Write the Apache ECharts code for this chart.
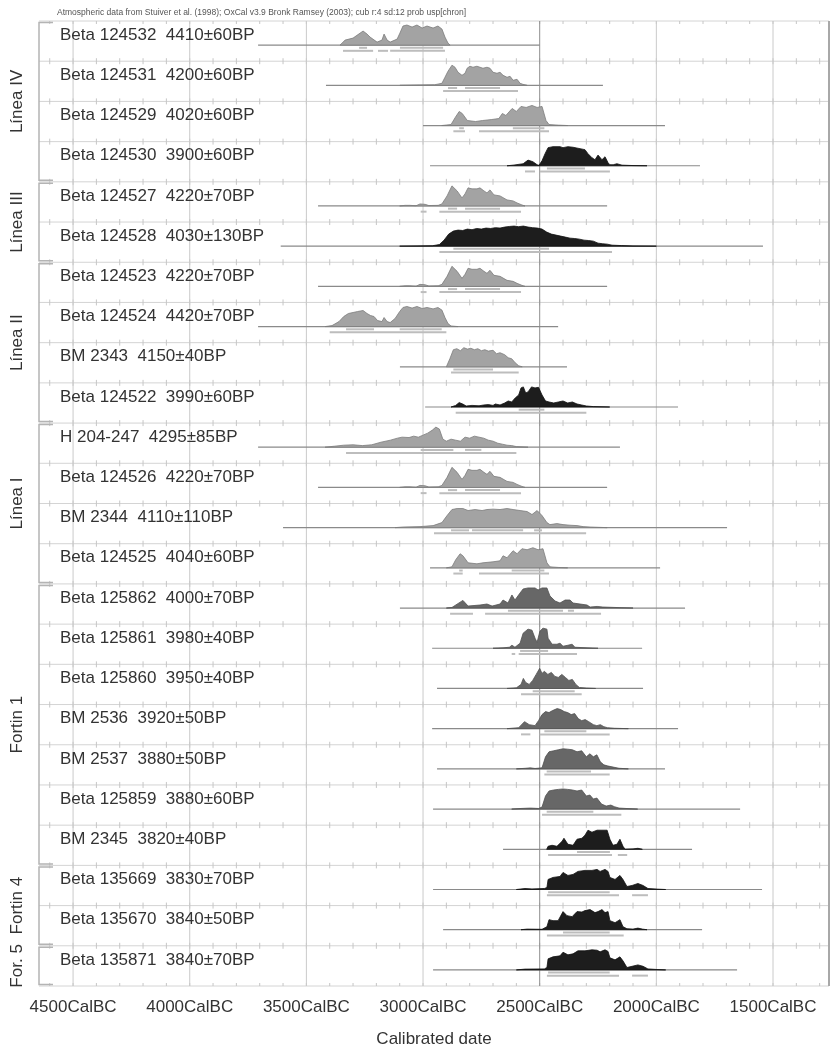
<!DOCTYPE html>
<html><head><meta charset="utf-8">
<script src="https://cdn.jsdelivr.net/npm/echarts@6/dist/echarts.min.js"></script>
<style>html,body{margin:0;padding:0;background:#fff}#c{width:835px;height:1053px}</style>
</head><body><div id="c"></div>
<script>
// ---------- DATA ----------
const headerText = 'Atmospheric data from Stuiver et al. (1998); OxCal v3.9 Bronk Ramsey (2003); cub r:4 sd:12 prob usp[chron]';
const axisTitle = 'Calibrated date';
const tickYears = [4500, 4000, 3500, 3000, 2500, 2000, 1500];
const axisStartBC = 4646, axisEndBC = 1260, minorStep = 100;

const groupNames = ['Línea IV', 'Línea III', 'Línea II', 'Línea I', 'Fortin 1', 'Fortin 4', 'For. 5'];
const groupSizes = [4, 2, 4, 4, 7, 2, 1];

const labels = [
  'Beta 124532  4410±60BP', 'Beta 124531  4200±60BP', 'Beta 124529  4020±60BP', 'Beta 124530  3900±60BP',
  'Beta 124527  4220±70BP', 'Beta 124528  4030±130BP',
  'Beta 124523  4220±70BP', 'Beta 124524  4420±70BP', 'BM 2343  4150±40BP', 'Beta 124522  3990±60BP',
  'H 204-247  4295±85BP', 'Beta 124526  4220±70BP', 'BM 2344  4110±110BP', 'Beta 124525  4040±60BP',
  'Beta 125862  4000±70BP', 'Beta 125861  3980±40BP', 'Beta 125860  3950±40BP', 'BM 2536  3920±50BP',
  'BM 2537  3880±50BP', 'Beta 125859  3880±60BP', 'BM 2345  3820±40BP',
  'Beta 135669  3830±70BP', 'Beta 135670  3840±50BP', 'Beta 135871  3840±70BP'
];
// l = light grey, m = mid grey, d = black
const shades = ['l','l','l','d', 'l','d', 'l','l','l','d', 'l','l','l','l', 'm','m','m','m','m','m','d', 'd','d', 'd'];

// calibrated range extent (years cal BC)
const ranges = [
  [3707,2500],[3416,2229],[3000,1963],[2970,1813],
  [3450,2211],[3610,1543],
  [3450,2211],[3707,2421],[3099,2383],[2991,1907],
  [3707,2156],[3450,2211],[3600,1697],[2970,1984],
  [3099,1877],[2961,2061],[2940,2057],[2961,1907],[2940,1963],[2957,1641],[2657,1847],
  [2957,1547],[2914,1804],[2957,1654]
];

// probability curves: [year cal BC, relative probability %]
const curve00 = [[3356,0],[3334,25],[3300,35],[3257,70],[3240,55],[3227,40],[3197,15],[3176,25],[3167,55],[3154,25],[3141,15],[3111,30],[3099,60],[3086,95],[3069,100],[3047,90],[3026,100],[3004,85],[2983,95],[2957,85],[2936,95],[2919,80],[2906,40],[2893,10],[2884,0]];
const curve01 = [[3099,0],[3013,2],[2950,3],[2919,10],[2906,40],[2893,70],[2876,100],[2863,90],[2850,65],[2833,50],[2820,60],[2811,85],[2799,95],[2786,90],[2769,95],[2756,90],[2743,85],[2726,90],[2713,85],[2700,65],[2683,60],[2670,65],[2657,50],[2640,40],[2627,45],[2614,25],[2597,30],[2584,10],[2572,5],[2554,0]];
const curve02 = [[2920,0],[2880,5],[2862,40],[2845,70],[2832,60],[2810,25],[2775,20],[2745,25],[2705,30],[2675,35],[2660,60],[2645,50],[2618,85],[2600,70],[2580,95],[2558,90],[2533,100],[2511,90],[2490,95],[2473,25],[2460,5],[2420,2],[2380,0]];
const curve03 = [[2640,0],[2614,3],[2571,10],[2550,28],[2529,20],[2511,5],[2503,2],[2490,25],[2477,60],[2464,90],[2443,95],[2413,95],[2400,90],[2379,95],[2357,92],[2327,85],[2306,80],[2293,60],[2276,40],[2263,30],[2250,53],[2233,30],[2220,45],[2207,15],[2199,5],[2185,5],[2169,10],[2147,3],[2100,1],[2040,0]];
const curve04 = [[3100,0],[3077,3],[3056,3],[3030,1],[3013,10],[2991,8],[2975,2],[2935,3],[2919,10],[2897,50],[2876,100],[2854,75],[2833,40],[2820,60],[2807,90],[2790,85],[2769,85],[2756,90],[2739,75],[2726,65],[2713,80],[2696,55],[2670,50],[2640,30],[2614,25],[2597,15],[2576,5],[2563,0]];
const curve05 = [[3100,0],[2960,2],[2930,8],[2910,30],[2890,60],[2870,75],[2850,80],[2830,78],[2810,85],[2790,82],[2770,88],[2750,85],[2730,90],[2710,88],[2690,92],[2670,90],[2650,95],[2630,98],[2610,100],[2590,97],[2570,100],[2550,95],[2530,92],[2510,90],[2490,85],[2470,70],[2450,60],[2430,55],[2410,50],[2390,45],[2370,40],[2350,38],[2330,35],[2310,30],[2290,28],[2270,25],[2250,15],[2230,12],[2210,10],[2190,5],[2150,3],[2100,1],[2000,0]];
const curve06 = [[3100,0],[3077,3],[3056,3],[3030,1],[3013,10],[2991,8],[2975,2],[2935,3],[2919,10],[2897,50],[2876,100],[2854,75],[2833,40],[2820,60],[2807,90],[2790,85],[2769,85],[2756,90],[2739,75],[2726,65],[2713,80],[2696,55],[2670,50],[2640,30],[2614,25],[2597,15],[2576,5],[2563,0]];
const curve07 = [[3420,0],[3390,5],[3360,25],[3340,50],[3320,65],[3300,70],[3280,75],[3257,80],[3240,65],[3225,55],[3210,50],[3195,30],[3176,25],[3167,45],[3154,25],[3141,20],[3120,40],[3100,75],[3086,95],[3069,100],[3047,92],[3026,100],[3004,90],[2983,95],[2957,88],[2936,95],[2919,82],[2906,45],[2893,15],[2880,3],[2850,0]];
const curve08 = [[2900,0],[2885,40],[2870,85],[2855,90],[2840,80],[2825,95],[2810,88],[2795,92],[2780,85],[2765,90],[2750,80],[2735,85],[2720,78],[2700,82],[2685,65],[2670,70],[2650,60],[2635,45],[2620,40],[2605,20],[2590,5],[2575,0]];
const curve09 = [[2880,0],[2860,8],[2845,22],[2830,15],[2815,5],[2790,8],[2760,6],[2740,10],[2720,12],[2700,8],[2690,15],[2670,10],[2650,20],[2635,30],[2620,25],[2605,45],[2590,60],[2580,95],[2570,100],[2560,70],[2550,75],[2535,100],[2520,95],[2505,98],[2490,60],[2475,30],[2460,25],[2440,20],[2420,25],[2400,30],[2380,20],[2360,25],[2340,15],[2320,10],[2300,5],[2270,2],[2200,0]];
const curve10 = [[3420,0],[3380,5],[3340,10],[3300,12],[3260,8],[3220,12],[3180,25],[3140,35],[3110,45],[3090,50],[3060,48],[3040,55],[3020,50],[3000,60],[2980,70],[2960,85],[2945,100],[2930,90],[2915,40],[2900,30],[2880,40],[2860,35],[2840,30],[2820,50],[2800,45],[2780,55],[2760,50],[2740,45],[2720,35],[2700,30],[2680,20],[2660,15],[2640,10],[2620,8],[2600,3],[2550,0]];
const curve11 = [[3100,0],[3077,3],[3056,3],[3030,1],[3013,10],[2991,8],[2975,2],[2935,3],[2919,10],[2897,50],[2876,100],[2854,75],[2833,40],[2820,60],[2807,90],[2790,85],[2769,85],[2756,90],[2739,75],[2726,65],[2713,80],[2696,55],[2670,50],[2640,30],[2614,25],[2597,15],[2576,5],[2563,0]];
const curve12 = [[3120,0],[3086,3],[3013,5],[2957,10],[2919,25],[2897,60],[2876,90],[2854,95],[2829,95],[2807,85],[2777,90],[2747,85],[2726,90],[2700,92],[2670,90],[2640,95],[2614,90],[2584,85],[2554,80],[2533,65],[2511,85],[2490,60],[2469,25],[2456,15],[2426,20],[2400,15],[2370,12],[2340,10],[2314,5],[2284,3],[2211,0]];
const curve13 = [[2900,0],[2876,5],[2860,40],[2841,70],[2829,60],[2807,25],[2769,20],[2743,25],[2700,30],[2670,35],[2657,60],[2640,50],[2614,85],[2597,70],[2576,95],[2554,90],[2529,100],[2507,90],[2486,95],[2469,25],[2456,5],[2420,2],[2380,0]];
const curve14 = [[2900,0],[2876,3],[2829,38],[2807,10],[2756,15],[2726,20],[2704,10],[2670,20],[2657,40],[2636,25],[2619,65],[2606,40],[2584,75],[2571,95],[2550,100],[2520,100],[2507,90],[2490,100],[2469,100],[2456,60],[2434,35],[2413,25],[2391,40],[2370,40],[2357,25],[2327,20],[2297,15],[2284,5],[2254,8],[2229,5],[2156,2],[2100,0]];
const curve15 = [[2700,0],[2657,2],[2630,5],[2619,15],[2606,5],[2584,25],[2571,75],[2550,95],[2533,90],[2520,50],[2511,30],[2499,85],[2486,100],[2469,95],[2464,50],[2447,20],[2426,20],[2413,25],[2400,10],[2379,15],[2361,20],[2349,5],[2297,2],[2250,0]];
const curve16 = [[2640,0],[2600,3],[2580,20],[2570,50],[2560,30],[2545,20],[2530,40],[2515,70],[2500,100],[2490,75],[2480,85],[2465,70],[2450,80],[2435,60],[2420,55],[2405,70],[2390,55],[2375,40],[2360,45],[2345,20],[2330,5],[2300,2],[2260,0]];
const curve17 = [[2640,0],[2590,5],[2565,35],[2545,20],[2520,15],[2505,40],[2490,70],[2475,85],[2460,80],[2445,90],[2425,100],[2410,95],[2395,85],[2380,80],[2365,70],[2350,75],[2335,50],[2320,40],[2305,45],[2290,35],[2270,20],[2255,15],[2240,20],[2225,10],[2210,5],[2180,2],[2120,0]];
const curve18 = [[2600,0],[2560,3],[2540,5],[2520,2],[2490,5],[2475,60],[2460,85],[2440,90],[2420,95],[2400,100],[2380,98],[2360,95],[2340,85],[2320,90],[2300,60],[2285,75],[2270,60],[2255,70],[2240,35],[2225,20],[2210,15],[2190,10],[2160,3],[2120,0]];
const curve19 = [[2620,0],[2580,3],[2540,5],[2505,3],[2490,10],[2475,65],[2460,90],[2440,95],[2420,98],[2400,100],[2380,98],[2360,95],[2340,90],[2320,95],[2300,65],[2285,70],[2270,50],[2255,55],[2235,25],[2215,15],[2195,20],[2180,12],[2160,5],[2130,3],[2080,0]];
const curve20 = [[2470,0],[2464,15],[2447,20],[2426,15],[2404,40],[2396,55],[2379,25],[2357,20],[2340,50],[2319,55],[2306,70],[2293,95],[2276,85],[2254,95],[2233,95],[2211,95],[2199,50],[2186,20],[2169,25],[2156,50],[2143,15],[2134,0],[2100,2],[2079,5],[2060,0]];
const curve21 = [[2600,0],[2563,5],[2533,3],[2480,5],[2469,10],[2464,50],[2443,60],[2413,65],[2400,85],[2379,70],[2357,75],[2336,90],[2306,95],[2276,95],[2254,100],[2241,90],[2220,100],[2207,90],[2199,60],[2177,50],[2156,70],[2143,50],[2126,15],[2104,20],[2079,30],[2057,20],[2036,5],[1997,2],[1960,0]];
const curve22 = [[2580,0],[2554,3],[2490,2],[2469,15],[2460,50],[2443,45],[2421,45],[2400,90],[2383,70],[2361,65],[2340,90],[2319,88],[2306,95],[2284,100],[2263,85],[2250,90],[2233,100],[2220,85],[2207,90],[2199,45],[2177,35],[2156,50],[2143,15],[2126,5],[2100,3],[2079,8],[2060,3],[2040,0]];
const curve23 = [[2600,0],[2563,4],[2480,5],[2469,12],[2464,55],[2443,65],[2413,70],[2400,88],[2379,75],[2357,80],[2336,95],[2306,95],[2276,100],[2254,98],[2241,90],[2220,100],[2207,92],[2199,60],[2177,50],[2156,65],[2143,45],[2126,12],[2104,18],[2079,25],[2057,18],[2036,5],[1997,2],[1960,0]];
const curves = [curve00,curve01,curve02,curve03,curve04,curve05,curve06,curve07,curve08,curve09,curve10,curve11,
                curve12,curve13,curve14,curve15,curve16,curve17,curve18,curve19,curve20,curve21,curve22,curve23];

// 68.2% ranges (upper brackets) and 95.4% ranges (lower brackets), years cal BC
const sigma1 = [
  [[3274,3240],[3099,2914]], [[2893,2854],[2820,2670]], [[2845,2825],[2615,2480]], [[2469,2306]],
  [[2893,2854],[2820,2670]], [[2870,2460]],
  [[2893,2854],[2820,2670]], [[3330,3210],[3100,2920]], [[2870,2700]], [[2590,2480]],
  [[3010,2870],[2820,2750]], [[2893,2854],[2820,2670]], [[2880,2803],[2790,2571],[2524,2490]], [[2845,2830],[2620,2480]],
  [[2636,2400],[2379,2353]], [[2584,2464]], [[2530,2350]], [[2480,2300]], [[2470,2280]], [[2470,2270]], [[2340,2199]],
  [[2464,2200]], [[2400,2200]], [[2464,2200]]
];
const sigma2 = [
  [[3343,3214],[3193,3150],[3141,2906]], [[2914,2593]], [[2870,2820],[2760,2460]], [[2563,2520],[2499,2199]],
  [[3010,2985],[2930,2580]], [[2930,2190]],
  [[3010,2985],[2930,2580]], [[3400,2900]], [[2880,2590]], [[2860,2300]],
  [[3330,2600]], [[3010,2985],[2930,2580]], [[2953,2301]], [[2870,2830],[2760,2460]],
  [[2884,2786],[2734,2237]], [[2620,2605],[2590,2340]], [[2580,2320]], [[2580,2540],[2500,2200]], [[2480,2200]], [[2490,2150]], [[2464,2190],[2165,2125]],
  [[2469,2160],[2104,2036]], [[2469,2140]], [[2469,2160],[2104,2036]]
];

// ---------- CHART ----------
const FONT = '"Liberation Sans", Arial, Helvetica, sans-serif';
const shadeStyle = {
  l: {fill: '#a3a3a3', stroke: '#7c7c7c'},
  m: {fill: '#676767', stroke: '#505050'},
  d: {fill: '#1d1d1d', stroke: '#111111'}
};
const nRows = labels.length;
const BASE = 0.6, AMP = 0.5, LABEL_Y = 0.35, S1 = 0.067, S2 = 0.142;
const X = y => -y;

const chart = echarts.init(document.getElementById('c'), null, {renderer: 'canvas'});

const rowLineSeries = {
  type: 'custom', silent: true, clip: false, z: 1,
  encode: {x: 0, y: 1},
  data: Array.from({length: nRows + 1}, (_, k) => [X(3000), k]),
  renderItem(params, api) {
    const k = api.value(1);
    const a = api.coord([X(axisStartBC), k]), b = api.coord([X(axisEndBC), k]);
    const ch = [{type: 'line', shape: {x1: a[0], y1: a[1], x2: b[0], y2: b[1]}, style: {stroke: '#d4d4d4', lineWidth: 1}}];
    for (let yr = Math.floor(axisStartBC / minorStep) * minorStep; yr > axisEndBC; yr -= minorStep) {
      const p = api.coord([X(yr), k]);
      const up = k === 0 ? 0 : 3, dn = k === nRows ? 0 : 3;
      ch.push({type: 'line', shape: {x1: p[0], y1: p[1] - up, x2: p[0], y2: p[1] + dn}, style: {stroke: '#c6c6c6', lineWidth: 1}});
    }
    return {type: 'group', children: ch};
  }
};

const vLineSeries = {
  type: 'custom', silent: true, clip: false, z: 2,
  encode: {x: 0, y: 1},
  data: tickYears.map(y => [X(y), 0]),
  renderItem(params, api) {
    const yr = tickYears[params.dataIndex];
    const a = api.coord([X(yr), 0]), b = api.coord([X(yr), nRows]);
    return {type: 'line', shape: {x1: a[0], y1: a[1], x2: b[0], y2: b[1]},
      style: {stroke: yr === 2500 ? '#8e8e8e' : '#cacaca', lineWidth: 1}};
  }
};

const frameSeries = {
  type: 'custom', silent: true, clip: false, z: 3,
  encode: {x: 0, y: 1},
  data: [[X(axisEndBC), 0]],
  renderItem(params, api) {
    const a = api.coord([X(axisEndBC), 0]), b = api.coord([X(axisEndBC), nRows]);
    return {type: 'line', shape: {x1: a[0], y1: a[1], x2: b[0], y2: b[1]}, style: {stroke: '#a8a8a8', lineWidth: 2}};
  }
};

const rowSeries = {
  type: 'custom', silent: true, clip: false, z: 5,
  encode: {x: 0, y: 1},
  data: labels.map((_, i) => [X(ranges[i][0]), i]),
  renderItem(params, api) {
    const i = params.dataIndex;
    const base = i + BASE;
    const st = shadeStyle[shades[i]];
    const ch = [];
    const r0 = api.coord([X(ranges[i][0]), base]), r1 = api.coord([X(ranges[i][1]), base]);
    ch.push({type: 'line', shape: {x1: r0[0], y1: r0[1], x2: r1[0], y2: r1[1]}, style: {stroke: '#8a8a8a', lineWidth: 1.2}});
    const pts = curves[i].map(([yr, h]) => api.coord([X(yr), base - h / 100 * AMP]));
    ch.push({type: 'polygon', shape: {points: pts}, style: {fill: st.fill, stroke: st.stroke, lineWidth: 0.8}});
    [[sigma1[i], S1], [sigma2[i], S2]].forEach(([segs, off]) => {
      segs.forEach(([y0, y1]) => {
        const p0 = api.coord([X(y0), base + off]), p1 = api.coord([X(y1), base + off]);
        ch.push({type: 'line', shape: {x1: p0[0], y1: p0[1], x2: p1[0], y2: p1[1]}, style: {stroke: '#bdbdbd', lineWidth: 2}});
      });
    });
    const lp = api.coord([X(4556), i + LABEL_Y]);
    ch.push({type: 'text', x: lp[0], y: lp[1], style: {text: labels[i], fill: '#333', fontSize: 17, fontFamily: FONT, align: 'left', verticalAlign: 'middle'}});
    return {type: 'group', children: ch};
  }
};

const groupStarts = groupSizes.map((_, g) => groupSizes.slice(0, g).reduce((s, v) => s + v, 0));
const groupSeries = {
  type: 'custom', silent: true, clip: false, z: 6,
  encode: {x: 0, y: 1},
  data: groupNames.map((_, g) => [X(axisStartBC), groupStarts[g]]),
  renderItem(params, api) {
    const g = params.dataIndex;
    const top = api.coord([X(axisStartBC), groupStarts[g]]);
    const bot = api.coord([X(axisStartBC), groupStarts[g] + groupSizes[g]]);
    const xl = top[0];
    return {type: 'group', children: [
      {type: 'polyline', shape: {points: [[xl + 14, top[1] + 1.5], [xl, top[1] + 1.5], [xl, bot[1] - 1.5], [xl + 14, bot[1] - 1.5]]},
        style: {stroke: '#b4b4b4', lineWidth: 1.5, fill: null}},
      {type: 'text', x: xl - 22, y: (top[1] + bot[1]) / 2, rotation: Math.PI / 2,
        style: {text: groupNames[g], fill: '#333', fontSize: 17, fontFamily: FONT, align: 'center', verticalAlign: 'middle'}}
    ]};
  }
};

chart.setOption({
  animation: false,
  backgroundColor: '#fff',
  graphic: [{type: 'text', left: 57, top: 8, style: {text: headerText, fontSize: 8.5, fontFamily: FONT, fill: '#555'}}],
  grid: {left: 39, right: 6, top: 21, bottom: 67},
  xAxis: {
    type: 'value', min: X(axisStartBC), max: X(axisEndBC),
    axisLine: {show: false}, axisTick: {show: false}, splitLine: {show: false},
    axisLabel: {customValues: tickYears.map(X), formatter: v => (-v) + 'CalBC', fontSize: 17, color: '#333', fontFamily: FONT, margin: 13},
    name: axisTitle, nameLocation: 'middle', nameGap: 45,
    nameTextStyle: {fontSize: 17, color: '#333', fontFamily: FONT}
  },
  yAxis: {type: 'value', min: 0, max: nRows, inverse: true, show: false},
  series: [rowLineSeries, vLineSeries, frameSeries, rowSeries, groupSeries]
});
</script>
</body></html>
